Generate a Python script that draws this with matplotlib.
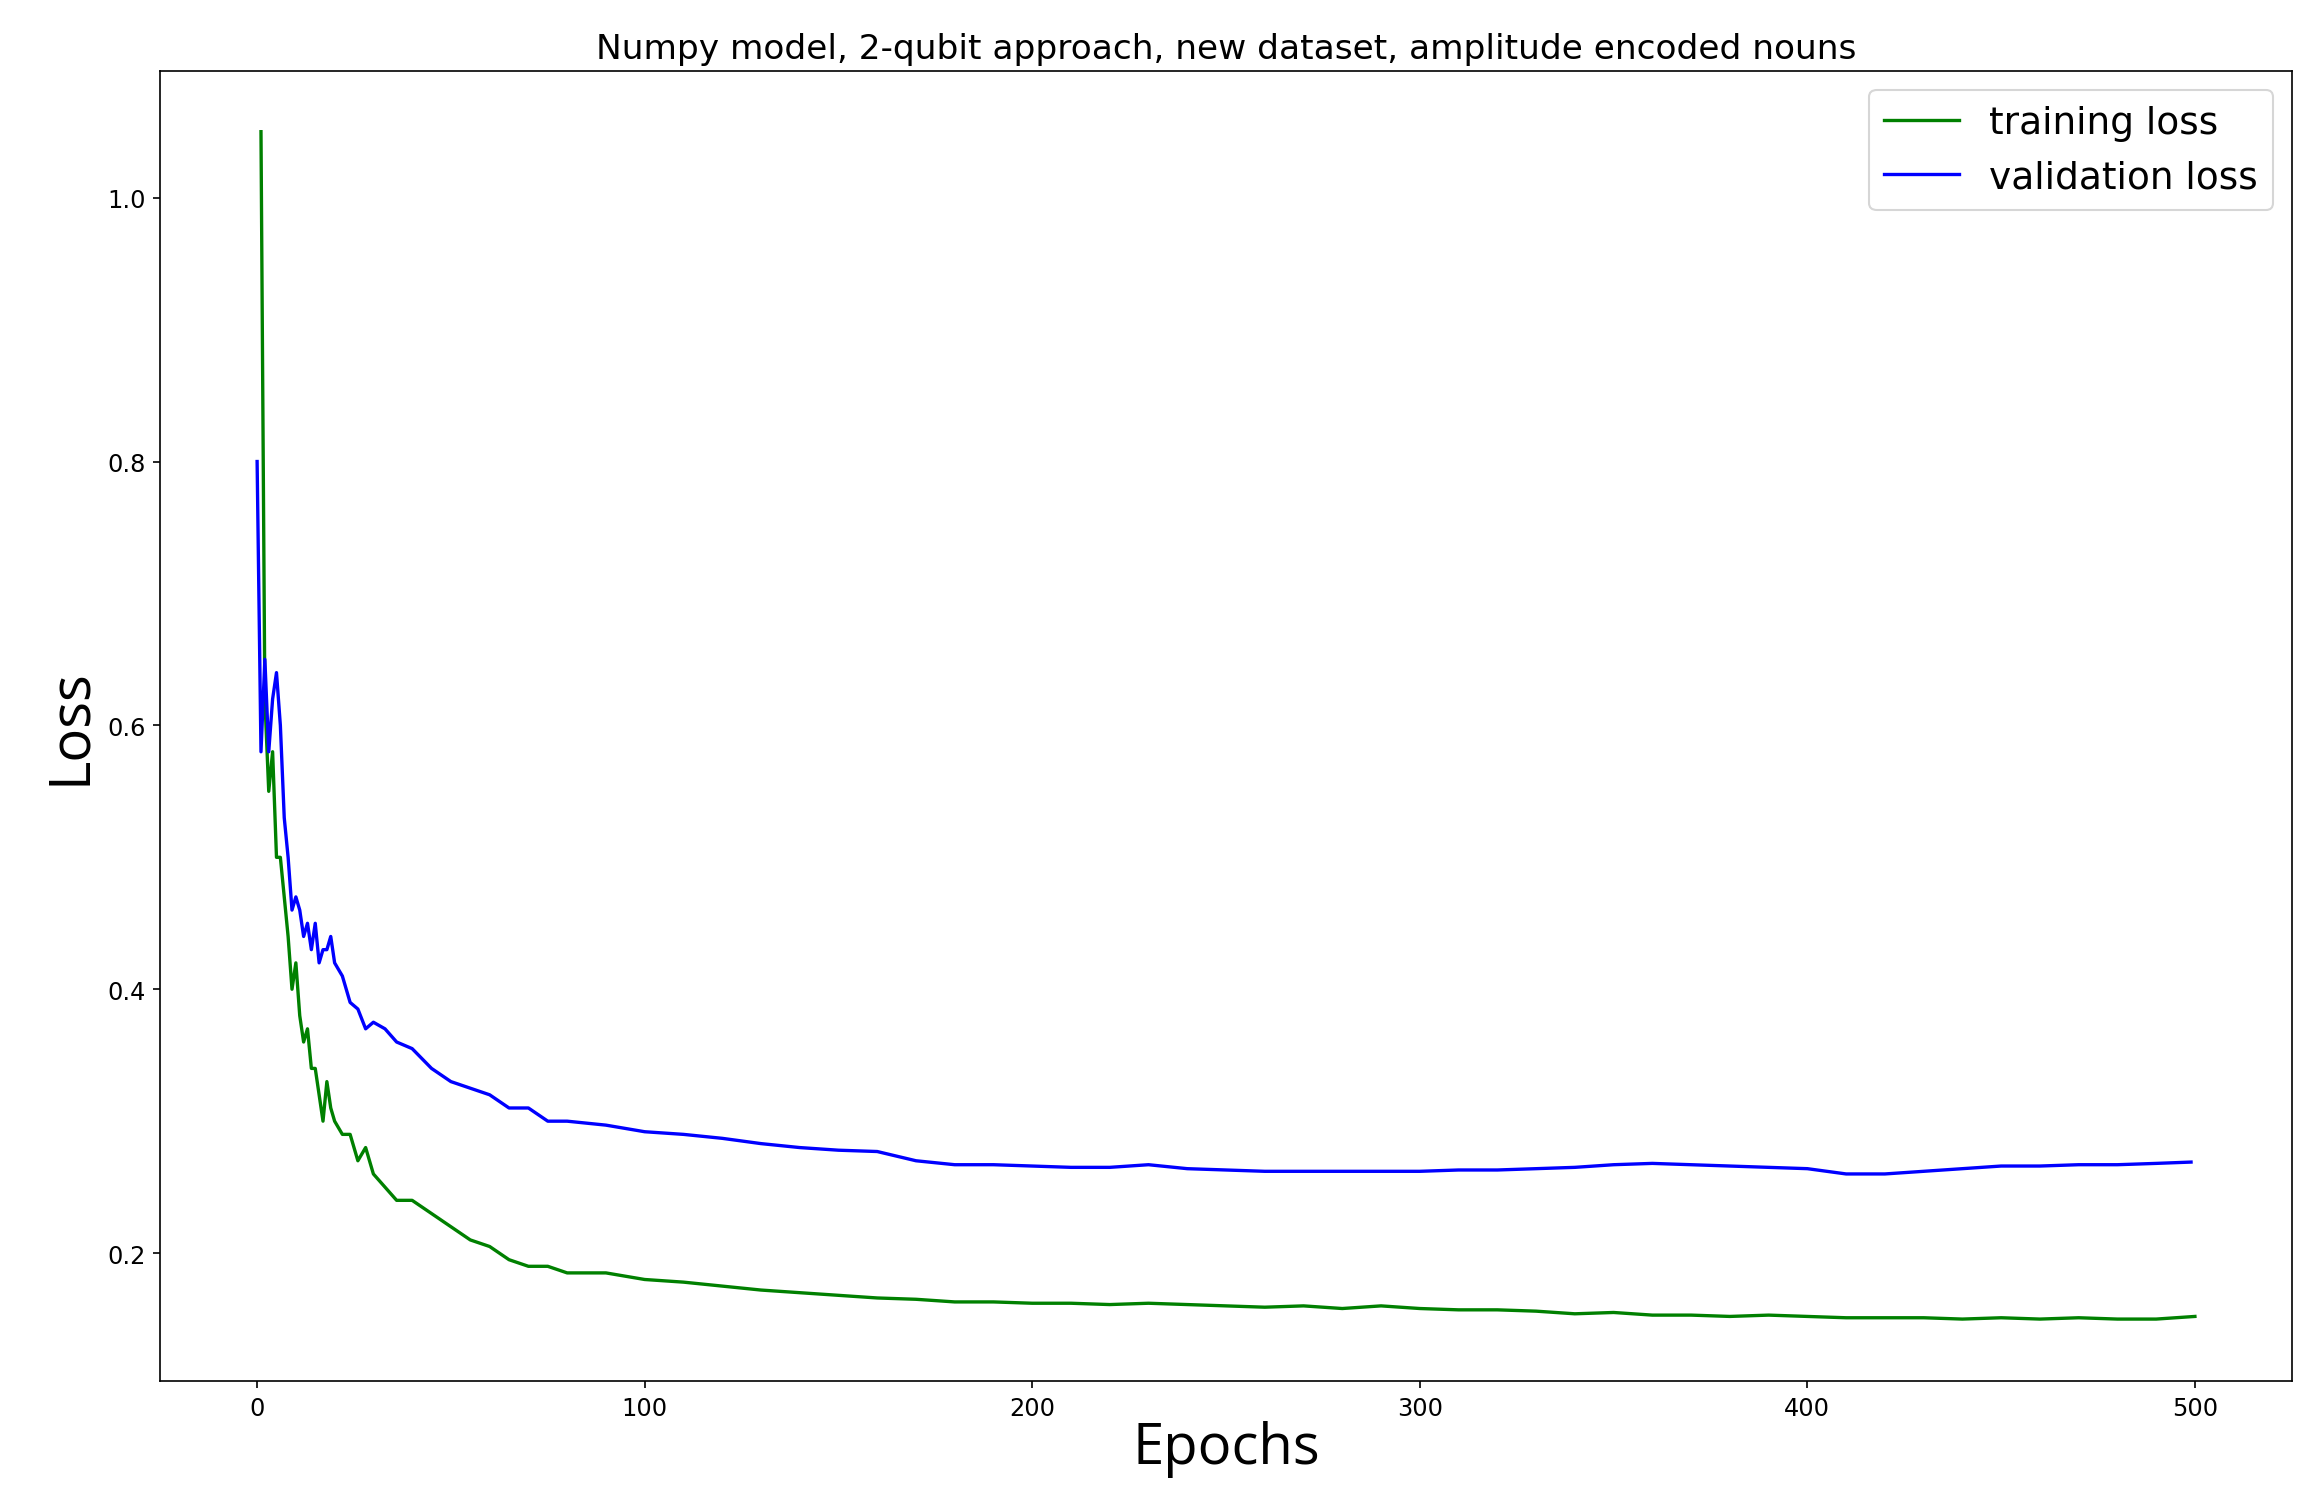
import matplotlib.pyplot as plt

train_epochs = [1, 2, 3, 4, 5, 6, 7, 8, 9, 10, 11, 12, 13, 14, 15, 16, 17, 18, 19, 20,
                22, 24, 26, 28, 30, 33, 36, 40, 45, 50, 55, 60, 65, 70, 75, 80, 90,
                100, 110, 120, 130, 140, 150, 160, 170, 180, 190, 200, 210, 220, 230,
                240, 250, 260, 270, 280, 290, 300, 310, 320, 330, 340, 350, 360, 370,
                380, 390, 400, 410, 420, 430, 440, 450, 460, 470, 480, 490, 500]
train_loss = [1.05, 0.62, 0.55, 0.58, 0.50, 0.50, 0.47, 0.44, 0.40, 0.42, 0.38, 0.36,
              0.37, 0.34, 0.34, 0.32, 0.30, 0.33, 0.31, 0.30, 0.29, 0.29, 0.27, 0.28,
              0.26, 0.25, 0.24, 0.24, 0.23, 0.22, 0.21, 0.205, 0.195, 0.19, 0.19,
              0.185, 0.185, 0.18, 0.178, 0.175, 0.172, 0.17, 0.168, 0.166, 0.165,
              0.163, 0.163, 0.162, 0.162, 0.161, 0.162, 0.161, 0.16, 0.159, 0.16,
              0.158, 0.16, 0.158, 0.157, 0.157, 0.156, 0.154, 0.155, 0.153, 0.153,
              0.152, 0.153, 0.152, 0.151, 0.151, 0.151, 0.15, 0.151, 0.15, 0.151,
              0.15, 0.15, 0.152]

val_epochs = [0, 1, 2, 3, 4, 5, 6, 7, 8, 9, 10, 11, 12, 13, 14, 15, 16, 17, 18, 19, 20,
              22, 24, 26, 28, 30, 33, 36, 40, 45, 50, 55, 60, 65, 70, 75, 80, 90, 100,
              110, 120, 130, 140, 150, 160, 170, 180, 190, 200, 210, 220, 230, 240,
              250, 260, 270, 280, 290, 300, 310, 320, 330, 340, 350, 360, 370, 380,
              390, 400, 410, 420, 430, 440, 450, 460, 470, 480, 490, 499]
val_loss = [0.80, 0.58, 0.65, 0.58, 0.62, 0.64, 0.60, 0.53, 0.50, 0.46, 0.47, 0.46,
            0.44, 0.45, 0.43, 0.45, 0.42, 0.43, 0.43, 0.44, 0.42, 0.41, 0.39, 0.385,
            0.37, 0.375, 0.37, 0.36, 0.355, 0.34, 0.33, 0.325, 0.32, 0.31, 0.31, 0.30,
            0.30, 0.297, 0.292, 0.29, 0.287, 0.283, 0.28, 0.278, 0.277, 0.27, 0.267,
            0.267, 0.266, 0.265, 0.265, 0.267, 0.264, 0.263, 0.262, 0.262, 0.262,
            0.262, 0.262, 0.263, 0.263, 0.264, 0.265, 0.267, 0.268, 0.267, 0.266,
            0.265, 0.264, 0.26, 0.26, 0.262, 0.264, 0.266, 0.266, 0.267, 0.267,
            0.268, 0.269]

fig = plt.figure(figsize=(15.48, 9.993), dpi=150)
ax = fig.add_axes([0.069, 0.078, 0.918, 0.874])

ax.plot(train_epochs, train_loss, color='green', lw=1.6, label='training loss')
ax.plot(val_epochs, val_loss, color='blue', lw=1.6, label='validation loss')

ax.set_xlim(-25, 525)
ax.set_ylim(0.103, 1.096)
ax.set_yticks([0.2, 0.4, 0.6, 0.8, 1.0])
ax.tick_params(labelsize=11.5)
ax.set_title('Numpy model, 2-qubit approach, new dataset, amplitude encoded nouns', fontsize=16.5)
ax.set_xlabel('Epochs', fontsize=27, family='Open Sans', labelpad=0)
ax.set_ylabel('Loss', fontsize=27, family='Open Sans', labelpad=4)
ax.legend(fontsize=18, loc='upper right')

fig.savefig('out.png')
